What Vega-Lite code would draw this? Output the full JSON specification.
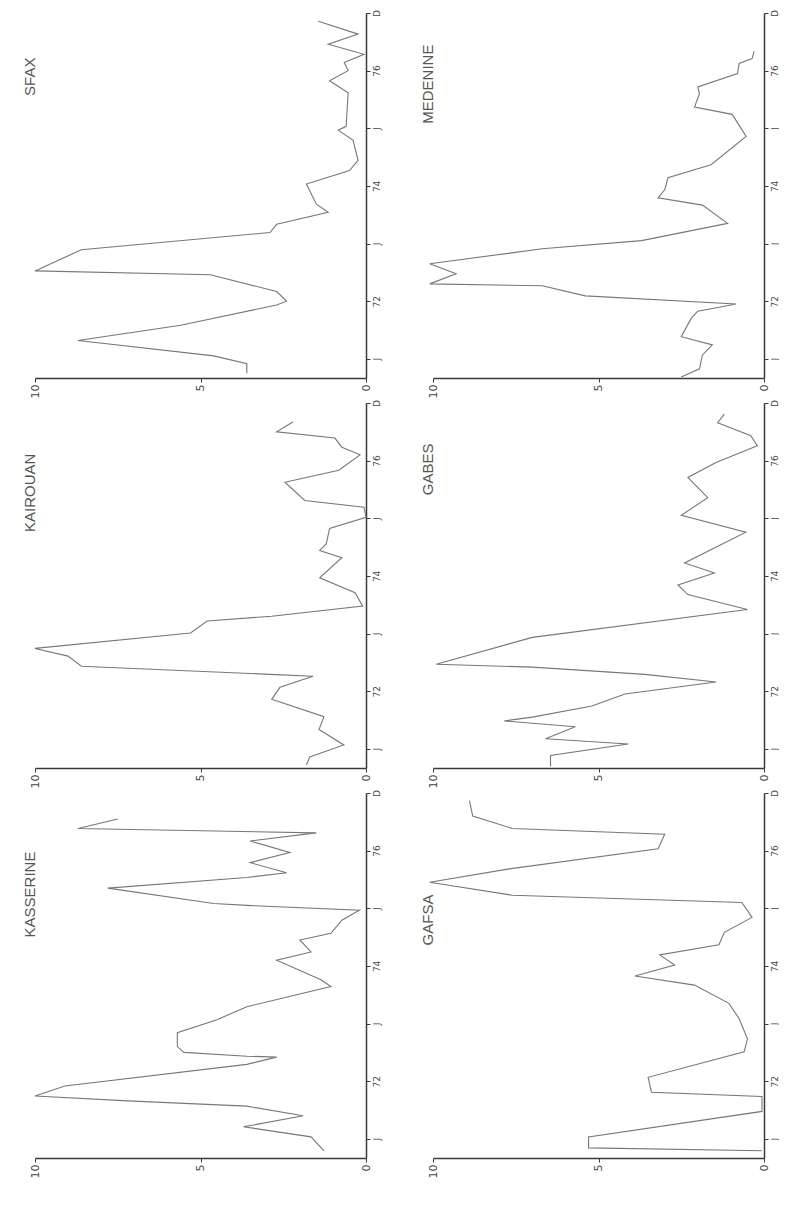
{
  "$schema": "https://vega.github.io/schema/vega-lite/v6.json",
  "padding": {"left": 22, "top": 9, "right": 0, "bottom": 0},
  "background": "white",
  "config": {
    "view": {"stroke": null},
    "axis": {"grid": false, "title": null, "domainColor": "#3a3a3a", "domainWidth": 1.5, "tickColor": "#3a3a3a", "tickSize": 4, "labelColor": "#444", "labelFont": "DejaVu Sans", "labelFontSize": 9},
    "title": {"font": "Liberation Sans", "fontWeight": "normal", "color": "#555", "fontSize": 15}
  },
  "data": {"values": [
    {"r":"SFAX","m":-1.5,"v":3.6},{"r":"SFAX","m":-0.5,"v":3.6},{"r":"SFAX","m":0.3,"v":4.6},{"r":"SFAX","m":1.9,"v":8.7},{"r":"SFAX","m":3.5,"v":5.6},{"r":"SFAX","m":5.6,"v":2.7},{"r":"SFAX","m":6.0,"v":2.4},{"r":"SFAX","m":7.0,"v":2.7},{"r":"SFAX","m":8.75,"v":4.7},{"r":"SFAX","m":9.15,"v":10.0},{"r":"SFAX","m":11.35,"v":8.6},{"r":"SFAX","m":13.15,"v":2.9},{"r":"SFAX","m":14.0,"v":2.7},{"r":"SFAX","m":15.25,"v":1.14},{"r":"SFAX","m":16.1,"v":1.5},{"r":"SFAX","m":18.2,"v":1.8},{"r":"SFAX","m":19.6,"v":0.5},{"r":"SFAX","m":20.65,"v":0.24},{"r":"SFAX","m":22.75,"v":0.39},{"r":"SFAX","m":23.8,"v":0.84},{"r":"SFAX","m":24.2,"v":0.6},{"r":"SFAX","m":27.7,"v":0.54},{"r":"SFAX","m":28.95,"v":1.1},{"r":"SFAX","m":30.0,"v":0.54},{"r":"SFAX","m":30.85,"v":0.66},{"r":"SFAX","m":31.7,"v":0.06},{"r":"SFAX","m":32.75,"v":1.14},{"r":"SFAX","m":33.8,"v":0.24},{"r":"SFAX","m":35.15,"v":1.44},
    {"r":"MEDENINE","m":-1.9,"v":2.5},{"r":"MEDENINE","m":-1.05,"v":1.95},{"r":"MEDENINE","m":0.4,"v":1.86},{"r":"MEDENINE","m":1.45,"v":1.56},{"r":"MEDENINE","m":2.3,"v":2.5},{"r":"MEDENINE","m":4.2,"v":2.2},{"r":"MEDENINE","m":4.95,"v":2.0},{"r":"MEDENINE","m":5.7,"v":0.84},{"r":"MEDENINE","m":6.55,"v":5.4},{"r":"MEDENINE","m":7.6,"v":6.7},{"r":"MEDENINE","m":7.8,"v":10.1},{"r":"MEDENINE","m":8.85,"v":9.3},{"r":"MEDENINE","m":9.9,"v":10.1},{"r":"MEDENINE","m":11.45,"v":6.7},{"r":"MEDENINE","m":12.3,"v":3.7},{"r":"MEDENINE","m":14.1,"v":1.1},{"r":"MEDENINE","m":16.0,"v":1.86},{"r":"MEDENINE","m":16.75,"v":3.2},{"r":"MEDENINE","m":17.6,"v":3.0},{"r":"MEDENINE","m":18.85,"v":2.9},{"r":"MEDENINE","m":20.2,"v":1.6},{"r":"MEDENINE","m":23.15,"v":0.54},{"r":"MEDENINE","m":25.45,"v":0.96},{"r":"MEDENINE","m":26.2,"v":2.1},{"r":"MEDENINE","m":27.6,"v":1.95},{"r":"MEDENINE","m":28.3,"v":2.0},{"r":"MEDENINE","m":29.7,"v":0.8},{"r":"MEDENINE","m":30.75,"v":0.75},{"r":"MEDENINE","m":31.25,"v":0.36},{"r":"MEDENINE","m":32.0,"v":0.3},
    {"r":"KAIROUAN","m":-1.7,"v":1.8},{"r":"KAIROUAN","m":-0.85,"v":1.7},{"r":"KAIROUAN","m":0.4,"v":0.67},{"r":"KAIROUAN","m":2.0,"v":1.42},{"r":"KAIROUAN","m":3.35,"v":1.27},{"r":"KAIROUAN","m":5.15,"v":2.85},{"r":"KAIROUAN","m":6.4,"v":2.6},{"r":"KAIROUAN","m":7.55,"v":1.6},{"r":"KAIROUAN","m":7.75,"v":2.9},{"r":"KAIROUAN","m":8.6,"v":8.6},{"r":"KAIROUAN","m":9.65,"v":9.0},{"r":"KAIROUAN","m":10.45,"v":10.0},{"r":"KAIROUAN","m":12.05,"v":5.3},{"r":"KAIROUAN","m":13.3,"v":4.8},{"r":"KAIROUAN","m":13.8,"v":2.85},{"r":"KAIROUAN","m":14.85,"v":0.1},{"r":"KAIROUAN","m":16.25,"v":0.33},{"r":"KAIROUAN","m":17.8,"v":1.4},{"r":"KAIROUAN","m":19.9,"v":0.73},{"r":"KAIROUAN","m":20.65,"v":1.4},{"r":"KAIROUAN","m":21.35,"v":1.2},{"r":"KAIROUAN","m":22.95,"v":1.1},{"r":"KAIROUAN","m":24.1,"v":0.0},{"r":"KAIROUAN","m":25.15,"v":0.06},{"r":"KAIROUAN","m":25.85,"v":1.85},{"r":"KAIROUAN","m":27.75,"v":2.45},{"r":"KAIROUAN","m":29.0,"v":0.82},{"r":"KAIROUAN","m":30.6,"v":0.18},{"r":"KAIROUAN","m":31.4,"v":0.73},{"r":"KAIROUAN","m":32.35,"v":0.94},{"r":"KAIROUAN","m":33.0,"v":2.7},{"r":"KAIROUAN","m":34.05,"v":2.2},
    {"r":"GABES","m":-1.85,"v":6.45},{"r":"GABES","m":-0.7,"v":6.45},{"r":"GABES","m":0.5,"v":4.1},{"r":"GABES","m":1.05,"v":6.6},{"r":"GABES","m":2.3,"v":5.7},{"r":"GABES","m":2.9,"v":7.85},{"r":"GABES","m":3.3,"v":7.0},{"r":"GABES","m":4.45,"v":5.2},{"r":"GABES","m":5.7,"v":4.2},{"r":"GABES","m":6.95,"v":1.45},{"r":"GABES","m":7.75,"v":3.6},{"r":"GABES","m":8.5,"v":7.0},{"r":"GABES","m":8.8,"v":9.9},{"r":"GABES","m":11.6,"v":7.0},{"r":"GABES","m":14.5,"v":0.5},{"r":"GABES","m":16.05,"v":2.3},{"r":"GABES","m":17.05,"v":2.6},{"r":"GABES","m":18.3,"v":1.5},{"r":"GABES","m":19.35,"v":2.4},{"r":"GABES","m":22.55,"v":0.55},{"r":"GABES","m":24.3,"v":2.5},{"r":"GABES","m":26.15,"v":1.7},{"r":"GABES","m":28.25,"v":2.3},{"r":"GABES","m":29.8,"v":1.45},{"r":"GABES","m":31.55,"v":0.2},{"r":"GABES","m":32.6,"v":0.4},{"r":"GABES","m":33.95,"v":1.4},{"r":"GABES","m":34.85,"v":1.2},
    {"r":"KASSERINE","m":-1.25,"v":1.27},{"r":"KASSERINE","m":0.2,"v":1.66},{"r":"KASSERINE","m":1.25,"v":3.7},{"r":"KASSERINE","m":2.4,"v":1.9},{"r":"KASSERINE","m":3.4,"v":3.6},{"r":"KASSERINE","m":3.95,"v":7.2},{"r":"KASSERINE","m":4.45,"v":10.0},{"r":"KASSERINE","m":5.5,"v":9.1},{"r":"KASSERINE","m":7.75,"v":3.6},{"r":"KASSERINE","m":8.5,"v":2.7},{"r":"KASSERINE","m":8.6,"v":3.6},{"r":"KASSERINE","m":9.0,"v":5.5},{"r":"KASSERINE","m":9.6,"v":5.7},{"r":"KASSERINE","m":11.05,"v":5.7},{"r":"KASSERINE","m":12.4,"v":4.5},{"r":"KASSERINE","m":13.75,"v":3.6},{"r":"KASSERINE","m":15.85,"v":1.06},{"r":"KASSERINE","m":16.55,"v":1.36},{"r":"KASSERINE","m":18.6,"v":2.7},{"r":"KASSERINE","m":19.45,"v":1.66},{"r":"KASSERINE","m":20.7,"v":2.0},{"r":"KASSERINE","m":21.4,"v":1.06},{"r":"KASSERINE","m":22.75,"v":0.73},{"r":"KASSERINE","m":23.8,"v":0.2},{"r":"KASSERINE","m":24.3,"v":3.6},{"r":"KASSERINE","m":24.5,"v":4.6},{"r":"KASSERINE","m":26.1,"v":7.8},{"r":"KASSERINE","m":27.2,"v":3.6},{"r":"KASSERINE","m":27.7,"v":2.4},{"r":"KASSERINE","m":28.75,"v":3.5},{"r":"KASSERINE","m":29.8,"v":2.3},{"r":"KASSERINE","m":31.0,"v":3.5},{"r":"KASSERINE","m":31.85,"v":1.5},{"r":"KASSERINE","m":32.3,"v":8.7},{"r":"KASSERINE","m":33.3,"v":7.5},
    {"r":"GAFSA","m":-1.25,"v":0.06},{"r":"GAFSA","m":-0.95,"v":5.3},{"r":"GAFSA","m":0.2,"v":5.3},{"r":"GAFSA","m":2.85,"v":0.06},{"r":"GAFSA","m":4.4,"v":0.06},{"r":"GAFSA","m":4.85,"v":3.4},{"r":"GAFSA","m":6.4,"v":3.5},{"r":"GAFSA","m":9.05,"v":0.6},{"r":"GAFSA","m":10.4,"v":0.5},{"r":"GAFSA","m":12.5,"v":0.75},{"r":"GAFSA","m":14.1,"v":1.06},{"r":"GAFSA","m":16.0,"v":2.1},{"r":"GAFSA","m":16.95,"v":3.9},{"r":"GAFSA","m":18.1,"v":2.7},{"r":"GAFSA","m":19.15,"v":3.15},{"r":"GAFSA","m":20.2,"v":1.36},{"r":"GAFSA","m":21.5,"v":1.2},{"r":"GAFSA","m":23.05,"v":0.36},{"r":"GAFSA","m":24.6,"v":0.67},{"r":"GAFSA","m":25.35,"v":7.6},{"r":"GAFSA","m":26.7,"v":10.1},{"r":"GAFSA","m":28.1,"v":7.7},{"r":"GAFSA","m":30.2,"v":3.2},{"r":"GAFSA","m":31.7,"v":3.0},{"r":"GAFSA","m":32.3,"v":7.6},{"r":"GAFSA","m":33.6,"v":8.8},{"r":"GAFSA","m":35.2,"v":8.9}
  ]},
  "columns": 2,
  "spacing": {"row": 25, "column": 67},
  "bounds": "flush",
  "concat": [
    {"width": 331, "height": 365, "title": {"text": "SFAX", "orient": "left", "anchor": "end", "offset": -9, "dx": -48},
     "transform": [{"filter": "datum.r === 'SFAX'"}],
     "mark": {"type": "line", "color": "#777", "strokeWidth": 1.1},
     "encoding": {
       "x": {"field": "v", "type": "quantitative", "scale": {"domain": [0, 10], "reverse": true, "nice": false}, "axis": {"orient": "bottom", "values": [0, 5, 10], "labelAngle": 270, "labelFontSize": 11}},
       "y": {"field": "m", "type": "quantitative", "scale": {"domain": [-2, 36], "nice": false}, "axis": {"orient": "right", "values": [0, 6, 12, 18, 24, 30, 36], "labelExpr": "['J','72','J','74','J','76','D'][datum.value/6]", "labelAngle": 270, "labelAlign": "center", "labelBaseline": "top"}},
       "order": {"field": "m", "type": "quantitative"}}},
    {"width": 331, "height": 365, "title": {"text": "MEDENINE", "orient": "left", "anchor": "end", "offset": -9, "dx": -35},
     "transform": [{"filter": "datum.r === 'MEDENINE'"}],
     "mark": {"type": "line", "color": "#777", "strokeWidth": 1.1},
     "encoding": {
       "x": {"field": "v", "type": "quantitative", "scale": {"domain": [0, 10], "reverse": true, "nice": false}, "axis": {"orient": "bottom", "values": [0, 5, 10], "labelAngle": 270, "labelFontSize": 11}},
       "y": {"field": "m", "type": "quantitative", "scale": {"domain": [-2, 36], "nice": false}, "axis": {"orient": "right", "values": [0, 6, 12, 18, 24, 30, 36], "labelExpr": "['J','72','J','74','J','76','D'][datum.value/6]", "labelAngle": 270, "labelAlign": "center", "labelBaseline": "top"}},
       "order": {"field": "m", "type": "quantitative"}}},
    {"width": 331, "height": 365, "title": {"text": "KAIROUAN", "orient": "left", "anchor": "end", "offset": -9, "dx": -54},
     "transform": [{"filter": "datum.r === 'KAIROUAN'"}],
     "mark": {"type": "line", "color": "#777", "strokeWidth": 1.1},
     "encoding": {
       "x": {"field": "v", "type": "quantitative", "scale": {"domain": [0, 10], "reverse": true, "nice": false}, "axis": {"orient": "bottom", "values": [0, 5, 10], "labelAngle": 270, "labelFontSize": 11}},
       "y": {"field": "m", "type": "quantitative", "scale": {"domain": [-2, 36], "nice": false}, "axis": {"orient": "right", "values": [0, 6, 12, 18, 24, 30, 36], "labelExpr": "['J','72','J','74','J','76','D'][datum.value/6]", "labelAngle": 270, "labelAlign": "center", "labelBaseline": "top"}},
       "order": {"field": "m", "type": "quantitative"}}},
    {"width": 331, "height": 365, "title": {"text": "GABES", "orient": "left", "anchor": "end", "offset": -9, "dx": -44},
     "transform": [{"filter": "datum.r === 'GABES'"}],
     "mark": {"type": "line", "color": "#777", "strokeWidth": 1.1},
     "encoding": {
       "x": {"field": "v", "type": "quantitative", "scale": {"domain": [0, 10], "reverse": true, "nice": false}, "axis": {"orient": "bottom", "values": [0, 5, 10], "labelAngle": 270, "labelFontSize": 11}},
       "y": {"field": "m", "type": "quantitative", "scale": {"domain": [-2, 36], "nice": false}, "axis": {"orient": "right", "values": [0, 6, 12, 18, 24, 30, 36], "labelExpr": "['J','72','J','74','J','76','D'][datum.value/6]", "labelAngle": 270, "labelAlign": "center", "labelBaseline": "top"}},
       "order": {"field": "m", "type": "quantitative"}}},
    {"width": 331, "height": 365, "title": {"text": "KASSERINE", "orient": "left", "anchor": "end", "offset": -9, "dx": -62},
     "transform": [{"filter": "datum.r === 'KASSERINE'"}],
     "mark": {"type": "line", "color": "#777", "strokeWidth": 1.1},
     "encoding": {
       "x": {"field": "v", "type": "quantitative", "scale": {"domain": [0, 10], "reverse": true, "nice": false}, "axis": {"orient": "bottom", "values": [0, 5, 10], "labelAngle": 270, "labelFontSize": 11}},
       "y": {"field": "m", "type": "quantitative", "scale": {"domain": [-2, 36], "nice": false}, "axis": {"orient": "right", "values": [0, 6, 12, 18, 24, 30, 36], "labelExpr": "['J','72','J','74','J','76','D'][datum.value/6]", "labelAngle": 270, "labelAlign": "center", "labelBaseline": "top"}},
       "order": {"field": "m", "type": "quantitative"}}},
    {"width": 331, "height": 365, "title": {"text": "GAFSA", "orient": "left", "anchor": "end", "offset": -9, "dx": -105},
     "transform": [{"filter": "datum.r === 'GAFSA'"}],
     "mark": {"type": "line", "color": "#777", "strokeWidth": 1.1},
     "encoding": {
       "x": {"field": "v", "type": "quantitative", "scale": {"domain": [0, 10], "reverse": true, "nice": false}, "axis": {"orient": "bottom", "values": [0, 5, 10], "labelAngle": 270, "labelFontSize": 11}},
       "y": {"field": "m", "type": "quantitative", "scale": {"domain": [-2, 36], "nice": false}, "axis": {"orient": "right", "values": [0, 6, 12, 18, 24, 30, 36], "labelExpr": "['J','72','J','74','J','76','D'][datum.value/6]", "labelAngle": 270, "labelAlign": "center", "labelBaseline": "top"}},
       "order": {"field": "m", "type": "quantitative"}}}
  ]
}
